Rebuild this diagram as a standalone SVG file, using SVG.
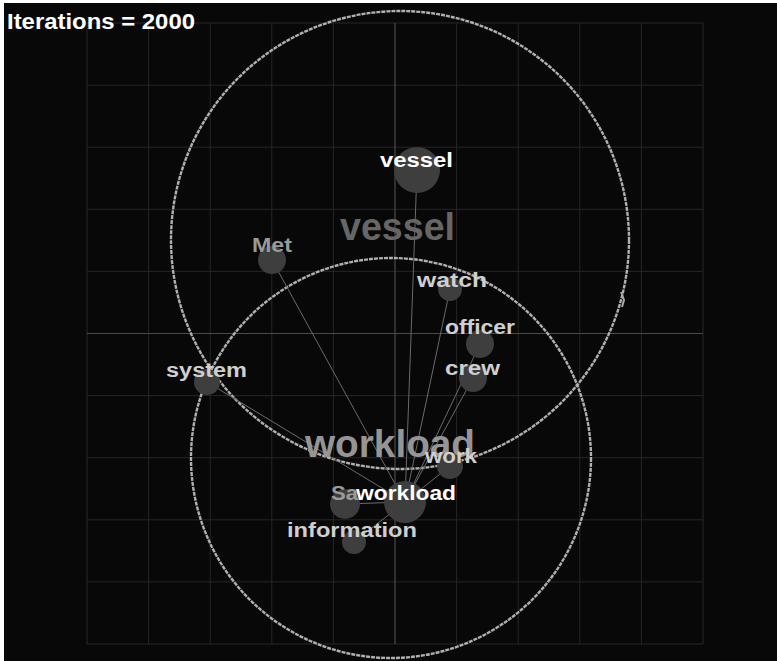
<svg xmlns="http://www.w3.org/2000/svg" width="777" height="661" viewBox="0 0 777 661">
<style>
.grid{stroke:#262626;stroke-width:1;fill:none}
.axis{stroke:#4a4a4a;stroke-width:1.2;fill:none}
.cluster{fill:none;stroke:#b0b0b0;stroke-width:2.4;stroke-dasharray:4 1}
.edge{stroke:#6a6a6a;stroke-width:1;fill:none}
.node{fill:#3e3e3e}
.lbl{font-family:"Liberation Sans",Arial,sans-serif;font-weight:bold;font-size:20px;fill:#cfcfcf}
.hi{fill:#ffffff}
.dim{fill:#9a9a9a}
.big{font-family:"Liberation Sans",Arial,sans-serif;font-weight:bold;font-size:38px}
</style>
<rect x="0" y="0" width="777" height="661" fill="#ffffff"/>
<rect x="4" y="3" width="773" height="658" fill="#080808"/>
<g id="grid">
<path class="grid" d="M87 23V644M148.6 23V644M210.2 23V644M271.8 23V644M333.4 23V644M456.6 23V644M518.2 23V644M579.8 23V644M641.4 23V644M703 23V644"/>
<path class="grid" d="M87 23H703M87 85.1H703M87 147.2H703M87 209.3H703M87 271.4H703M87 395.6H703M87 457.7H703M87 519.8H703M87 581.9H703M87 644H703"/>
<path class="axis" d="M395 23V644M87 333.5H703"/>
</g>
<text x="7" y="29" font-family="'Liberation Sans',Arial,sans-serif" font-weight="bold" font-size="22" fill="#ffffff" textLength="188" lengthAdjust="spacingAndGlyphs">Iterations = 2000</text>
<g id="clusters">
<circle id="cluster-vessel" class="cluster" cx="400" cy="240" r="229"/>
<circle id="cluster-workload" class="cluster" cx="391" cy="458" r="200" stroke="#c0c0c0" stroke-width="2.8"/>
<path d="M621 292l3 8-2 7" fill="none" stroke="#a8a8a8" stroke-width="2"/>
</g>
<g id="connectors">
<line class="edge" x1="417" y1="170" x2="405" y2="502" stroke="#a0a0a0"/>
<line class="edge" x1="272" y1="260" x2="405" y2="502"/>
<line class="edge" x1="207" y1="382" x2="405" y2="502"/>
<line class="edge" x1="450" y1="289" x2="405" y2="502"/>
<line class="edge" x1="480" y1="344" x2="405" y2="502"/>
<line class="edge" x1="473" y1="378" x2="405" y2="502"/>
<line class="edge" x1="450" y1="466" x2="405" y2="502"/>
<line class="edge" x1="345" y1="504" x2="405" y2="502"/>
<line class="edge" x1="354" y1="542" x2="405" y2="502"/>
</g>
<text class="big" x="340" y="240" fill="#666666" textLength="115" lengthAdjust="spacingAndGlyphs">vessel</text>
<text class="big" x="305" y="457" fill="#959595" textLength="170" lengthAdjust="spacingAndGlyphs">workload</text>
<g id="node-vessel"><circle class="node" cx="417" cy="170" r="23" fill="#2f2f2f"/><text class="lbl hi" x="380" y="167" textLength="73" lengthAdjust="spacingAndGlyphs">vessel</text></g>
<g id="node-met"><circle class="node" cx="272" cy="260" r="14"/><text class="lbl dim" x="252" y="252" textLength="40" lengthAdjust="spacingAndGlyphs">Met</text></g>
<g id="node-watch"><circle class="node" cx="450" cy="289" r="12"/><text class="lbl" x="417" y="287" textLength="70" lengthAdjust="spacingAndGlyphs">watch</text></g>
<g id="node-officer"><circle class="node" cx="480" cy="344" r="14"/><text class="lbl" x="445" y="334" textLength="70" lengthAdjust="spacingAndGlyphs">officer</text></g>
<g id="node-crew"><circle class="node" cx="473" cy="378" r="14"/><text class="lbl" x="445" y="375" textLength="55" lengthAdjust="spacingAndGlyphs">crew</text></g>
<g id="node-system"><circle class="node" cx="207" cy="382" r="13"/><text class="lbl" x="166" y="377" textLength="81" lengthAdjust="spacingAndGlyphs">system</text></g>
<g id="node-work"><circle class="node" cx="450" cy="466" r="13"/><text class="lbl" x="425" y="463" textLength="52" lengthAdjust="spacingAndGlyphs">work</text></g>
<g id="node-sa"><circle class="node" cx="345" cy="504" r="15"/><text class="lbl dim" x="331" y="500" textLength="27" lengthAdjust="spacingAndGlyphs">Sa</text></g>
<g id="node-workload"><circle class="node" cx="405" cy="502" r="21" fill="#484848"/><text class="lbl hi" x="356" y="500" textLength="100" lengthAdjust="spacingAndGlyphs">workload</text></g>
<g id="node-information"><circle class="node" cx="354" cy="542" r="12"/><text class="lbl" x="287" y="537" textLength="130" lengthAdjust="spacingAndGlyphs">information</text></g>
</svg>
